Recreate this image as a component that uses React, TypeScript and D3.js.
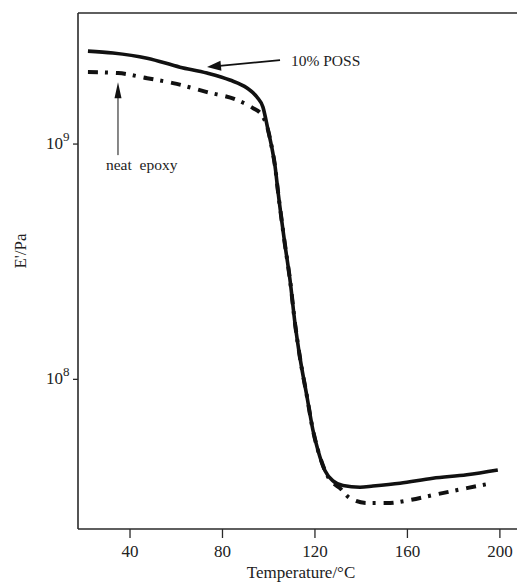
import React from "react";
import * as d3 from "d3";

const W = 517;
const H = 583;

// Temperature (°C) and storage modulus E' (Pa)
const possTemp = [21.8, 32.6, 47.4, 61.6, 73.3, 83.2, 90.6, 94.9, 97.5, 99.7, 101.4, 102.7, 104.0, 107.0, 109.2, 111.4, 113.5, 116.5, 119.1, 121.3, 124.3, 127.8, 132.1, 139.5, 145.1, 156.8, 171.0, 185.7, 199.1];
const possE = [2.483e9, 2.438e9, 2.317e9, 2.123e9, 2.004e9, 1.871e9, 1.73e9, 1.585e9, 1.435e9, 1.148e9, 9.6e8, 8.1e8, 6.3e8, 3.75e8, 2.65e8, 1.72e8, 1.24e8, 8.5e7, 6.1e7, 5.0e7, 4.1e7, 3.7e7, 3.54e7, 3.48e7, 3.52e7, 3.62e7, 3.8e7, 3.93e7, 4.12e7];

const neatTemp = [21.8, 34.8, 47.4, 58.6, 73.3, 86.3, 93.2, 97.1, 99.7, 101.4, 102.7, 104.0, 107.0, 109.2, 111.4, 113.5, 116.5, 119.1, 121.3, 124.3, 126.0, 130.8, 135.1, 142.5, 151.1, 161.1, 171.0, 185.7, 196.5];
const neatE = [2.023e9, 2.004e9, 1.905e9, 1.816e9, 1.663e9, 1.538e9, 1.422e9, 1.327e9, 1.148e9, 9.6e8, 8.1e8, 6.3e8, 3.75e8, 2.65e8, 1.72e8, 1.24e8, 8.5e7, 6.1e7, 5.0e7, 4.1e7, 3.8e7, 3.45e7, 3.13e7, 2.98e7, 2.98e7, 3.07e7, 3.22e7, 3.45e7, 3.62e7];

const xTicks = [40, 80, 120, 160, 200];
const yTicks = [1e9, 1e8];
const yTickExp = ["9", "8"];

const xDomain = [17.5, 207.4];
const yDomain = [Math.pow(10, 7.364), Math.pow(10, 9.557)];

// annotations in data coordinates
const possArrow = { from: [104.9, Math.pow(10, 9.357)], to: [73.3, Math.pow(10, 9.327)], label: "10% POSS", labelAt: [109.6, Math.pow(10, 9.331)] };
const neatArrow = { from: [34.8, Math.pow(10, 8.953)], to: [34.8, Math.pow(10, 9.263)], label: "neat  epoxy", labelAt: [29.6, Math.pow(10, 8.889)] };

export default function App() {
  const left = 78, top = 13, bottom = 529, right = W;
  const x = d3.scaleLinear().domain(xDomain).range([left, right]);
  const y = d3.scaleLog().domain(yDomain).range([bottom, top]);

  const line = d3
    .line<[number, number]>()
    .x((d) => x(d[0]))
    .y((d) => y(d[1]))
    .curve(d3.curveMonotoneX);

  const possPath = line(possTemp.map((t, i) => [t, possE[i]] as [number, number])) || "";
  const neatPath = line(neatTemp.map((t, i) => [t, neatE[i]] as [number, number])) || "";

  const arrowHead = (fx: number, fy: number, tx: number, ty: number, len = 14, wid = 5) => {
    const a = Math.atan2(ty - fy, tx - fx);
    const bx = tx - len * Math.cos(a);
    const by = ty - len * Math.sin(a);
    const px = -Math.sin(a) * wid;
    const py = Math.cos(a) * wid;
    return `M${tx},${ty}L${bx + px},${by + py}L${bx - px},${by - py}Z`;
  };

  const pa = {
    fx: x(possArrow.from[0]), fy: y(possArrow.from[1]),
    tx: x(possArrow.to[0]), ty: y(possArrow.to[1]),
  };
  const na = {
    fx: x(neatArrow.from[0]), fy: y(neatArrow.from[1]),
    tx: x(neatArrow.to[0]), ty: y(neatArrow.to[1]),
  };

  const font = "'Liberation Serif', 'Times New Roman', serif";
  const axisColor = "#2a2a2a";

  return (
    <svg width={W} height={H} style={{ position: "absolute", left: 0, top: 0, background: "#fff" }} fontFamily={font}>
      {/* axes */}
      <line x1={left} y1={top} x2={right} y2={top} stroke={axisColor} strokeWidth={1.6} />
      <line x1={left} y1={bottom} x2={right} y2={bottom} stroke={axisColor} strokeWidth={1.6} />
      <line x1={left} y1={top} x2={left} y2={bottom} stroke={axisColor} strokeWidth={1.6} />

      {xTicks.map((t) => (
        <g key={t}>
          <line x1={x(t)} x2={x(t)} y1={bottom} y2={bottom + 9} stroke={axisColor} strokeWidth={1.3} />
          <text x={x(t)} y={557} textAnchor="middle" fontSize={17} fill="#222">{t}</text>
        </g>
      ))}
      {yTicks.map((v, i) => (
        <g key={v}>
          <line x1={left - 5} x2={left} y1={y(v)} y2={y(v)} stroke={axisColor} strokeWidth={1.3} />
          <text x={63} y={y(v) + 5} textAnchor="end" fontSize={17} fill="#222">10</text>
          <text x={63} y={y(v) - 3} textAnchor="start" fontSize={13} fill="#222">{yTickExp[i]}</text>
        </g>
      ))}

      <text x={301} y={578} textAnchor="middle" fontSize={17} fill="#222">Temperature/°C</text>
      <text transform={`translate(26,251) rotate(-90)`} textAnchor="middle" fontSize={17} fill="#222">E'/Pa</text>

      {/* curves */}
      <path d={neatPath} fill="none" stroke="#111" strokeWidth={4} strokeDasharray="10 7 3 8" />
      <path d={possPath} fill="none" stroke="#111" strokeWidth={3.6} strokeLinejoin="round" />

      {/* annotations */}
      <line x1={pa.fx} y1={pa.fy} x2={pa.tx + 10} y2={pa.ty - 1} stroke="#111" strokeWidth={1.8} />
      <path d={arrowHead(pa.fx, pa.fy, pa.tx, pa.ty)} fill="#111" />
      <text x={x(possArrow.labelAt[0])} y={y(possArrow.labelAt[1])} fontSize={15.5} fill="#222">{possArrow.label}</text>

      <line x1={na.fx} y1={na.fy} x2={na.tx} y2={na.ty + 10} stroke="#111" strokeWidth={1} />
      <path d={arrowHead(na.fx, na.fy, na.tx, na.ty, 16, 3.5)} fill="#111" />
      <text x={x(neatArrow.labelAt[0])} y={y(neatArrow.labelAt[1])} fontSize={15.5} fill="#222" style={{ whiteSpace: "pre" }}>{neatArrow.label}</text>
    </svg>
  );
}
